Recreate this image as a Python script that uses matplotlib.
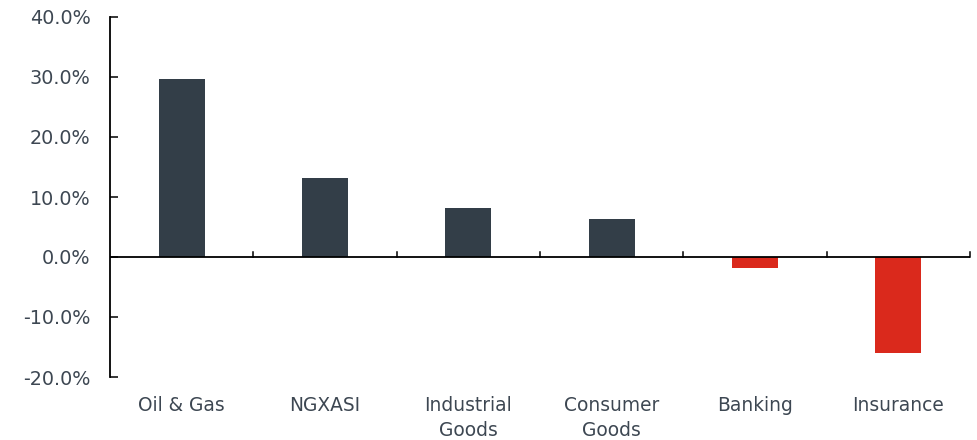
import numpy as np
import matplotlib.pyplot as plt
from matplotlib.ticker import FuncFormatter

# Sector returns, %
sectors = ['Oil & Gas', 'NGXASI', 'Industrial\nGoods', 'Consumer\nGoods', 'Banking', 'Insurance']
returns = [29.7, 13.2, 8.2, 6.3, -1.8, -16.0]

DARK = '#333e48'
RED = '#da291c'
TEXT = '#3d4752'

plt.rcParams['font.family'] = ['DejaVu Sans']

fig = plt.figure(figsize=(9.77, 4.4), dpi=100)
ax = fig.add_axes([110 / 977, 1 - 377 / 440, 860 / 977, 360 / 440])

x = np.arange(len(sectors))
colors = [DARK if v >= 0 else RED for v in returns]
ax.bar(x, returns, width=0.32, color=colors, zorder=2)

ax.set_xlim(-0.5, len(sectors) - 0.5)
ax.set_ylim(-20, 40)
ax.set_yticks(np.arange(-20, 41, 10))
ax.yaxis.set_major_formatter(FuncFormatter(lambda v, p: f'{v:.1f}%'))

# category labels under the plot, boundary ticks on the zero line
ax.set_xticks([])
ax.axhline(0, color='black', lw=1.3, zorder=3)
for b in np.arange(0.5, len(sectors), 1.0):
    ax.plot([b, b], [0, 0.9], color='black', lw=1.1, zorder=3, clip_on=False)
for xi, lab in zip(x, sectors):
    ax.text(xi, -23.2, lab, ha='center', va='top', fontsize=13.4, color=TEXT,
            linespacing=1.4)

for s in ['top', 'right', 'bottom']:
    ax.spines[s].set_visible(False)
ax.spines['left'].set_linewidth(1.3)
ax.tick_params(axis='y', direction='in', length=6, width=1.1, labelsize=13.8,
               labelcolor=TEXT, pad=14)

fig.savefig('out.png', dpi=100)
